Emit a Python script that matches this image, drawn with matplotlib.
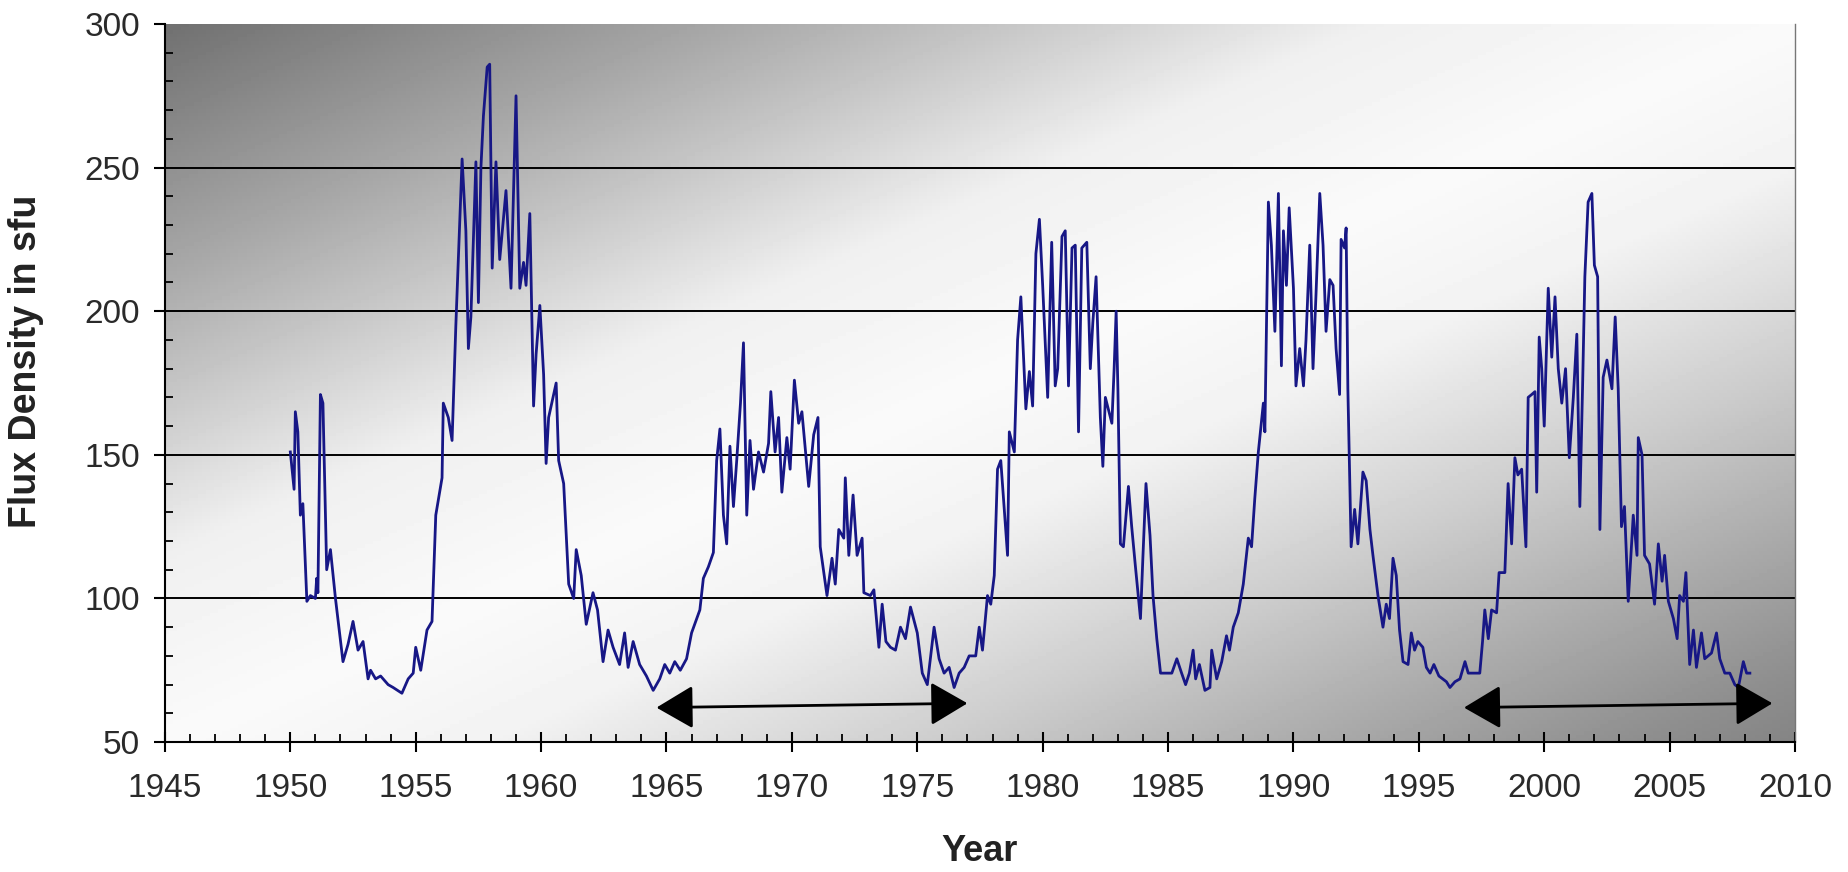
#!/usr/bin/env python3
# -*- coding: utf-8 -*-

import matplotlib
matplotlib.use('Agg')
import matplotlib.pyplot as plt
import numpy as np

plt.rcParams['font.family'] = ['Liberation Sans', 'DejaVu Sans']

# monthly solar flux (year, sfu)
years = [
    1950.0, 1950.15, 1950.2, 1950.3, 1950.4, 1950.5, 1950.66, 1950.8, 1951.0, 1951.05,
    1951.1, 1951.2, 1951.3, 1951.45, 1951.6, 1951.8, 1952.1, 1952.3, 1952.5, 1952.7,
    1952.9, 1953.1, 1953.2, 1953.4, 1953.6, 1953.9, 1954.1, 1954.45, 1954.7, 1954.9,
    1955.0, 1955.2, 1955.45, 1955.65, 1955.8, 1956.05, 1956.1, 1956.3, 1956.45, 1956.6,
    1956.85, 1957.0, 1957.1, 1957.2, 1957.4, 1957.5, 1957.6, 1957.7, 1957.85, 1957.95,
    1958.05, 1958.2, 1958.35, 1958.6, 1958.8, 1959.0, 1959.15, 1959.3, 1959.4, 1959.55,
    1959.7, 1959.8, 1959.95, 1960.1, 1960.2, 1960.3, 1960.6, 1960.7, 1960.9, 1961.1,
    1961.3, 1961.4, 1961.6, 1961.8, 1962.07, 1962.25, 1962.47, 1962.67, 1962.87, 1963.13,
    1963.33, 1963.47, 1963.67, 1963.93, 1964.2, 1964.47, 1964.73, 1964.93, 1965.13, 1965.33,
    1965.55, 1965.8, 1966.0, 1966.33, 1966.47, 1966.67, 1966.87, 1967.0, 1967.13, 1967.27,
    1967.4, 1967.53, 1967.67, 1967.8, 1967.95, 1968.07, 1968.2, 1968.33, 1968.47, 1968.67,
    1968.87, 1969.07, 1969.16, 1969.33, 1969.47, 1969.6, 1969.8, 1969.93, 1970.1, 1970.27,
    1970.4, 1970.67, 1970.87, 1971.04, 1971.13, 1971.4, 1971.6, 1971.73, 1971.87, 1972.07,
    1972.13, 1972.27, 1972.44, 1972.6, 1972.8, 1972.87, 1973.13, 1973.27, 1973.47, 1973.6,
    1973.75, 1973.93, 1974.13, 1974.33, 1974.53, 1974.73, 1975.0, 1975.2, 1975.4, 1975.67,
    1975.87, 1976.07, 1976.27, 1976.47, 1976.67, 1976.87, 1977.07, 1977.33, 1977.47, 1977.6,
    1977.8, 1977.93, 1978.07, 1978.2, 1978.33, 1978.6, 1978.67, 1978.87, 1979.0, 1979.13,
    1979.33, 1979.47, 1979.6, 1979.73, 1979.87, 1980.0, 1980.2, 1980.36, 1980.5, 1980.6,
    1980.77, 1980.9, 1981.03, 1981.17, 1981.3, 1981.43, 1981.56, 1981.76, 1981.9, 1982.0,
    1982.13, 1982.3, 1982.4, 1982.5, 1982.76, 1982.85, 1982.93, 1983.0, 1983.1, 1983.22,
    1983.42, 1983.55, 1983.7, 1983.9, 1984.0, 1984.12, 1984.28, 1984.4, 1984.55, 1984.7,
    1984.95, 1985.15, 1985.35, 1985.54, 1985.7, 1985.85, 1986.0, 1986.1, 1986.25, 1986.47,
    1986.67, 1986.74, 1986.94, 1987.14, 1987.33, 1987.45, 1987.6, 1987.8, 1988.0, 1988.2,
    1988.33, 1988.46, 1988.6, 1988.8, 1988.86, 1989.0, 1989.12, 1989.26, 1989.4, 1989.52,
    1989.6, 1989.72, 1989.83, 1990.0, 1990.1, 1990.25, 1990.4, 1990.5, 1990.65, 1990.78,
    1990.9, 1991.05, 1991.18, 1991.3, 1991.45, 1991.58, 1991.7, 1991.84, 1991.9, 1992.04,
    1992.1, 1992.17, 1992.3, 1992.44, 1992.57, 1992.77, 1992.9, 1993.05, 1993.17, 1993.37,
    1993.57, 1993.7, 1993.83, 1993.97, 1994.1, 1994.23, 1994.37, 1994.57, 1994.7, 1994.83,
    1994.96, 1995.16, 1995.3, 1995.45, 1995.6, 1995.8, 1996.1, 1996.24, 1996.44, 1996.64,
    1996.84, 1996.97, 1997.2, 1997.43, 1997.54, 1997.63, 1997.77, 1997.9, 1998.1, 1998.2,
    1998.43, 1998.56, 1998.7, 1998.83, 1998.95, 1999.1, 1999.27, 1999.36, 1999.5, 1999.63,
    1999.7, 1999.8, 1999.9, 2000.0, 2000.16, 2000.3, 2000.43, 2000.56, 2000.7, 2000.85,
    2001.0, 2001.16, 2001.3, 2001.42, 2001.53, 2001.62, 2001.75, 2001.9, 2002.0, 2002.13,
    2002.22, 2002.35, 2002.5, 2002.7, 2002.83, 2002.95, 2003.08, 2003.2, 2003.35, 2003.55,
    2003.7, 2003.75, 2003.9, 2004.0, 2004.2, 2004.4, 2004.55, 2004.7, 2004.8, 2004.95,
    2005.15, 2005.3, 2005.4, 2005.55, 2005.65, 2005.8, 2005.95, 2006.07, 2006.27, 2006.4,
    2006.67, 2006.87, 2007.0, 2007.2, 2007.4, 2007.6, 2007.74, 2007.94, 2008.07, 2008.2,
]
flux = [
    151, 138, 165, 158, 129, 133, 99, 101, 100, 107,
    102, 171, 168, 110, 117, 100, 78, 84, 92, 82,
    85, 72, 75, 72, 73, 70, 69, 67, 72, 74,
    83, 75, 89, 92, 129, 142, 168, 163, 155, 195,
    253, 228, 187, 198, 252, 203, 250, 268, 285, 286,
    215, 252, 218, 242, 208, 275, 208, 217, 209, 234,
    167, 185, 202, 178, 147, 163, 175, 148, 140, 105,
    100, 117, 108, 91, 102, 96, 78, 89, 83, 77,
    88, 76, 85, 77, 73, 68, 72, 77, 74, 78,
    75, 79, 88, 96, 107, 111, 116, 148, 159, 129,
    119, 153, 132, 148, 168, 189, 129, 155, 138, 151,
    144, 154, 172, 151, 163, 137, 156, 145, 176, 161,
    165, 139, 157, 163, 118, 101, 114, 105, 124, 121,
    142, 115, 136, 115, 121, 102, 101, 103, 83, 98,
    85, 83, 82, 90, 86, 97, 88, 74, 70, 90,
    79, 74, 76, 69, 74, 76, 80, 80, 90, 82,
    101, 98, 108, 145, 148, 115, 158, 151, 190, 205,
    166, 179, 167, 220, 232, 209, 170, 224, 174, 180,
    226, 228, 174, 222, 223, 158, 222, 224, 180, 196,
    212, 163, 146, 170, 161, 180, 200, 173, 119, 118,
    139, 125, 111, 93, 115, 140, 122, 101, 86, 74,
    74, 74, 79, 74, 70, 74, 82, 72, 77, 68,
    69, 82, 72, 78, 87, 82, 90, 95, 105, 121,
    118, 135, 151, 168, 158, 238, 223, 193, 241, 181,
    228, 209, 236, 208, 174, 187, 174, 190, 223, 180,
    206, 241, 223, 193, 211, 209, 187, 171, 225, 222,
    229, 173, 118, 131, 119, 144, 141, 124, 115, 101,
    90, 98, 93, 114, 108, 89, 78, 77, 88, 82,
    85, 83, 76, 74, 77, 73, 71, 69, 71, 72,
    78, 74, 74, 74, 85, 96, 86, 96, 95, 109,
    109, 140, 119, 149, 143, 145, 118, 170, 171, 172,
    137, 191, 180, 160, 208, 184, 205, 180, 168, 180,
    149, 170, 192, 132, 174, 212, 238, 241, 216, 212,
    124, 177, 183, 173, 198, 173, 125, 132, 99, 129,
    115, 156, 150, 115, 112, 98, 119, 106, 115, 99,
    93, 86, 101, 99, 109, 77, 89, 76, 88, 79,
    81, 88, 79, 74, 74, 70, 69, 78, 74, 74,
]

# double-headed arrows marking two cycle lengths: (x0, y0, x1, y1)
arrows = [(1964.6, 62.0, 1977.0, 63.5), (1996.8, 62.0, 2009.1, 63.5)]

grid_levels = [100, 150, 200, 250]

fig = plt.figure(figsize=(18.49, 8.72), dpi=100)
ax = fig.add_axes([0.0892, 0.149, 0.8816, 0.8235])

# diagonal grey-white-grey background
u = np.linspace(0, 1, 400)
v = np.linspace(0, 1, 200)
U, V = np.meshgrid(u, v)
t = (U + V) / 2.0
shade = np.interp(t, [0, 0.174, 0.26, 0.37, 0.5, 0.6, 0.74, 0.85, 0.95, 1.0],
                  [0.44, 0.66, 0.78, 0.94, 0.98, 0.95, 0.80, 0.67, 0.56, 0.52])
ax.imshow(shade, cmap='gray', vmin=0, vmax=1, extent=[0, 1, 0, 1],
          transform=ax.transAxes, aspect='auto', zorder=0, origin='upper')

for g in grid_levels:
    ax.axhline(g, color='black', lw=1.4, zorder=1)

ax.plot(years, flux, color='#171786', lw=2.0, zorder=3)

for x0, y0, x1, y1 in arrows:
    ax.annotate('', xy=(x1, y1), xytext=(x0, y0),
                arrowprops=dict(arrowstyle='<|-|>,head_length=2.3,head_width=1.35',
                                mutation_scale=10, color='black', lw=2,
                                shrinkA=0, shrinkB=0), zorder=4)

ax.set_xlim(1945, 2010)
ax.set_ylim(50, 300)
ax.set_xticks(np.arange(1945, 2011, 5))
ax.set_xticks(np.arange(1945, 2011, 1), minor=True)
ax.set_yticks(np.arange(50, 301, 50))
ax.set_yticks(np.arange(50, 301, 10), minor=True)

ax.tick_params(axis='x', which='major', direction='inout', length=15, width=1.5,
               pad=15, labelsize=24, labelcolor='#2a2a2a')
ax.tick_params(axis='x', which='minor', direction='in', length=6, width=1.3)
ax.tick_params(axis='y', which='major', direction='out', length=8, width=1.5,
               pad=10, labelsize=24, labelcolor='#2a2a2a')
ax.tick_params(axis='y', which='minor', direction='in', length=6, width=1.3)

ax.spines['top'].set_visible(False)
ax.spines['right'].set_color('#777777')
ax.spines['right'].set_linewidth(1)
ax.spines['left'].set_linewidth(1.5)
ax.spines['bottom'].set_linewidth(1.5)

ax.set_xlabel('Year', fontsize=26, fontweight='bold', color='#222222')
ax.xaxis.label.set_va('center')
ax.xaxis.set_label_coords(0.5, -0.152)
ax.set_ylabel('Flux Density in sfu', fontsize=27, fontweight='bold', color='#222222')
ax.yaxis.label.set_va('center')
ax.yaxis.set_label_coords(-0.085, 0.53)

plt.savefig('out.png', dpi=100)
